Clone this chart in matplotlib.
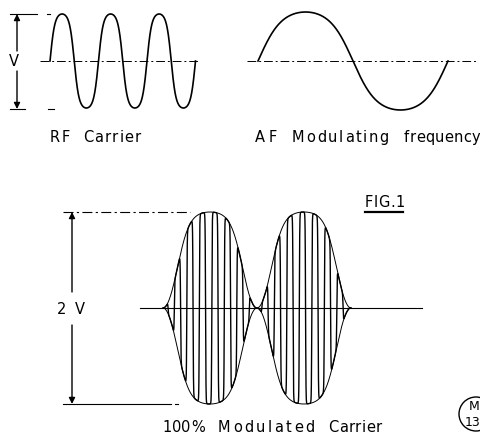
import numpy as np
import matplotlib.pyplot as plt
from matplotlib.patches import Circle

# RF carrier (top left), pixel units
rf_start, rf_period, rf_cycles = 50, 48.5, 3
rf_centre, rf_amp = 62, 47

# AF modulating frequency (top right)
af_start, af_period, af_centre, af_amp = 258, 190, 62, 49

# 100% modulated carrier (bottom)
am_start, am_period, am_lobes = 163, 94, 2
am_centre, am_amp = 309, 96
carrier_period = 12.5

# words of lettering: text, left, right, y
words = [("RF", 50, 70, 138), ("Carrier", 83, 141, 138),
         ("AF", 255, 277, 138), ("Modulating", 292, 389, 138),
         ("frequency", 404, 479, 138),
         ("100%", 162, 205, 428), ("Modulated", 218, 315, 428),
         ("Carrier", 328, 382, 428),
         ("FIG.1", 365, 405, 203),
         ("2", 57, 67, 310), ("V", 75, 84, 310), ("V", 9, 18, 62)]


def shaped(theta, k):
    # sine with flattened tops, as drawn by hand
    return np.tanh(k * np.sin(theta)) / np.tanh(k)


def letters(word, x0, x1, y, size=10.5):
    r = fig.canvas.get_renderer()
    items = []
    for ch in word:
        t = ax.text(0, y, ch, ha='left', va='center', fontsize=size,
                    color='black')
        items.append((t, t.get_window_extent(r).width))
    total = sum(w for _, w in items)
    gap = max((x1 - x0 - total) / max(len(items) - 1, 1), 0.3)
    if len(items) == 1:
        gap = 0
        x0 = (x0 + x1 - total) / 2
    cur = x0
    for t, w in items:
        t.set_x(cur)
        cur += w + gap


def arrow(x, y_tip, y_from):
    ax.annotate('', xy=(x, y_tip), xytext=(x, y_from),
                arrowprops=dict(arrowstyle='-|>', lw=1.0, color='black',
                                mutation_scale=9, shrinkA=0, shrinkB=0))


fig = plt.figure(figsize=(4.81, 4.39), dpi=100)
ax = fig.add_axes([0, 0, 1, 1])
ax.set_xlim(0, 481)
ax.set_ylim(439, 0)
ax.axis('off')

k = 'black'
dash = (0, (9, 3, 2, 3))

# --- RF carrier
ax.plot([10, 37], [15, 15], color=k, lw=0.8)
ax.plot([47, 50], [15, 15], color=k, lw=0.8)
ax.plot([10, 25], [110, 110], color=k, lw=0.8)
ax.plot([48, 54], [110, 110], color=k, lw=0.8)
ax.plot([40, 198], [rf_centre, rf_centre], color=k, lw=0.7, linestyle=dash)
arrow(17, 15, 52)
arrow(17, 110, 72)
x = np.linspace(rf_start, rf_start + rf_cycles * rf_period, 800)
y = rf_centre - rf_amp * shaped(2 * np.pi * (x - rf_start) / rf_period, 1.5)
ax.plot(x, y, color=k, lw=1.2)

# --- AF modulating frequency
ax.plot([247, 477], [af_centre, af_centre], color=k, lw=0.7, linestyle=dash)
x = np.linspace(af_start, af_start + af_period, 600)
y = af_centre - af_amp * shaped(2 * np.pi * (x - af_start) / af_period, 1.1)
ax.plot(x, y, color=k, lw=1.2)

# --- modulated carrier
top = am_centre - am_amp
bot = am_centre + am_amp
ax.plot([63, 190], [top, top], color=k, lw=0.8, linestyle=dash)
ax.plot([63, 171], [bot, bot], color=k, lw=0.8)
ax.plot([175, 178], [bot, bot], color=k, lw=0.8)
ax.plot([140, 422], [am_centre, am_centre], color=k, lw=0.8)
arrow(72, top, 293)
arrow(72, bot, 326)

x = np.linspace(am_start, am_start + am_lobes * am_period, 6000)
s2 = np.sin(np.pi * (x - am_start) / am_period) ** 2
env = am_amp * np.tanh(2 * s2) / np.tanh(2)
ax.plot(x, am_centre - env, color=k, lw=0.7)
ax.plot(x, am_centre + env, color=k, lw=0.7)
car = env * shaped(2 * np.pi * (x - am_start) / carrier_period + 0.6, 5)
ax.plot(x, am_centre - car, color=k, lw=1.0)

ax.plot([365, 403], [213, 213], color=k, lw=1.6)

for w, x0, x1, yy in words:
    letters(w, x0, x1, yy)

ax.add_patch(Circle((476, 415), 17, fill=False, lw=1.0, color=k))
ax.text(474, 407, "M", ha='center', va='center', fontsize=9)
ax.text(473, 423, "13", ha='center', va='center', fontsize=9)

fig.savefig('out.png', dpi=100, facecolor='white')
